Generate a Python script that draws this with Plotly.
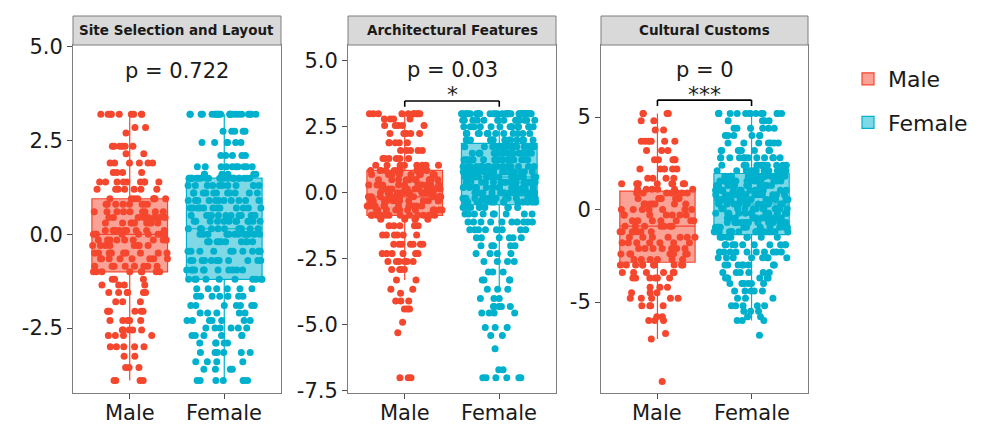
import numpy as np
import plotly.graph_objects as go

# ---------------- data: score levels and how many respondents sit at each ----------------
groups = ["Male", "Female"]
panel_titles = ["Site Selection and Layout", "Architectural Features", "Cultural Customs"]
p_labels = ["p = 0.722", "p = 0.03", "p = 0"]
sig_labels = ["", "*", "***"]

site_male_levels = [3.2, 2.85, 2.7, 2.35, 2.15, 1.9, 1.65, 1.4, 1.2,
                    0.95, 0.8, 0.6, 0.45, 0.3, 0.1, 0.0, -0.15, -0.3, -0.5, -0.65, -0.85, -1.0,
                    -1.2, -1.35, -1.55, -1.8, -2.05, -2.3, -2.55, -2.7, -3.0, -3.25, -3.55, -3.9]
site_male_counts = [9, 2, 1, 6, 2, 6, 4, 9, 7,
                    8, 8, 9, 8, 9, 10, 9, 9, 8, 9, 8, 8, 8,
                    3, 4, 6, 3, 6, 5, 5, 4, 5, 2, 3, 4]

site_female_levels = [3.2, 2.75, 2.45, 2.1, 1.8, 1.6, 1.5,
                      1.3, 1.1, 0.9, 0.7, 0.5, 0.35, 0.15, 0.0, -0.2, -0.45, -0.7, -0.95, -1.2,
                      -1.45, -1.65, -1.9, -2.1, -2.3, -2.5, -2.7, -2.9, -3.15, -3.4, -3.6, -3.9]
site_female_counts = [22, 5, 6, 5, 10, 6, 21,
                      10, 11, 11, 12, 12, 12, 11, 12, 11, 11, 11, 11, 10,
                      6, 7, 7, 5, 7, 6, 6, 5, 6, 4, 4, 7]

arch_male_levels = [3.0, 2.8, 2.55, 2.25, 1.9, 1.6, 1.3, 1.05, 0.85,
                    0.7, 0.5, 0.3, 0.15, 0.0, -0.15, -0.3, -0.5, -0.65, -0.85,
                    -1.0, -1.25, -1.6, -1.95, -2.3, -2.6, -2.9, -3.3, -3.65, -3.8,
                    -4.1, -4.4, -4.9, -5.3, -7.0]
arch_male_counts = [10, 4, 5, 5, 5, 5, 6, 8, 10,
                    10, 11, 11, 12, 12, 12, 12, 12, 11, 13,
                    5, 5, 6, 7, 6, 6, 4, 2, 2, 1,
                    3, 3, 1, 1, 3]

arch_female_levels = [3.0, 2.75, 2.5, 2.25, 2.0,
                      1.75, 1.5, 1.25, 1.0, 0.8, 0.6, 0.4, 0.2, 0.0, -0.2, -0.35,
                      -0.55, -0.8, -1.1, -1.4, -1.7, -2.0, -2.3, -2.6, -3.0, -3.3, -3.65,
                      -4.0, -4.3, -4.55, -5.1, -5.4, -5.9, -6.7, -7.0]
arch_female_counts = [34, 14, 14, 14, 14,
                      16, 17, 17, 17, 17, 17, 17, 16, 16, 16, 14,
                      8, 9, 10, 8, 6, 5, 4, 4, 3, 4, 3,
                      3, 5, 4, 3, 2, 1, 2, 6]

cult_male_levels = [5.2, 4.8, 4.3, 3.7, 3.2, 2.7, 2.2, 1.7, 1.4, 1.1,
                    0.9, 0.6, 0.3, 0.0, -0.3, -0.6, -0.9, -1.2, -1.5, -1.8, -2.1, -2.4, -2.7,
                    -3.0, -3.4, -3.7, -4.2, -4.5, -4.8, -5.2, -5.8, -6.0, -6.7, -7.0, -9.3]
cult_male_counts = [4, 2, 2, 6, 3, 5, 5, 4, 8, 6,
                    7, 7, 7, 7, 7, 7, 7, 7, 7, 7, 7, 7, 6,
                    10, 6, 6, 3, 3, 5, 4, 2, 3, 1, 1, 1]

cult_female_levels = [5.2, 4.8, 4.4, 4.0, 3.6, 3.2, 2.8, 2.4, 2.1,
                      1.8, 1.55, 1.3, 1.05, 0.8, 0.55, 0.3, 0.05, -0.2, -0.45, -0.7, -0.95, -1.2,
                      -1.5, -1.9, -2.3, -2.6, -3.0, -3.4, -3.7, -4.0, -4.4, -4.8, -5.2, -5.5,
                      -5.8, -6.0, -6.8]
cult_female_counts = [14, 4, 6, 6, 7, 8, 12, 13, 14,
                      13, 13, 13, 13, 13, 13, 13, 13, 13, 13, 13, 12, 13,
                      8, 10, 10, 8, 8, 6, 6, 6, 5, 3, 5, 3,
                      2, 3, 1]

panel_data = [
    (site_male_levels, site_male_counts, site_female_levels, site_female_counts),
    (arch_male_levels, arch_male_counts, arch_female_levels, arch_female_counts),
    (cult_male_levels, cult_male_counts, cult_female_levels, cult_female_counts),
]

# axis ticks per panel
y_ranges = [[-4.23, 5.05], [-7.58, 5.6], [-9.92, 8.9]]
y_tickvals = [[-2.5, 0.0, 2.5, 5.0], [-7.5, -5.0, -2.5, 0.0, 2.5, 5.0], [-5, 0, 5]]
y_ticktext = [["-2.5", "0.0", "2.5", "5.0"],
              ["-7.5", "-5.0", "-2.5", "0.0", "2.5", "5.0"],
              ["-5", "0", "5"]]
# annotation heights (data units) per panel
p_label_y = [4.36, 4.66, 7.54]
sig_label_y = [None, 3.18, 5.43]      # bottom edge of the star text
bracket_y = [None, 3.48, 5.92]
bracket_tick_y = [None, 3.26, 5.6]

# ---------------- styling ----------------
W, H = 986, 426
colors = {"Male": "#F5462E", "Female": "#00B1CD"}
fills = {"Male": "rgba(245,70,46,0.5)", "Female": "rgba(0,177,205,0.5)"}
x_domains = [(73, 281), (348, 556), (601, 808)]   # pixel spans of the panels
plot_top, plot_bottom = 45, 393
strip_top = 16
FONT = "DejaVu Sans"
TXT = "#1A1A1A"

fig = go.Figure()
layout_axes = {}
shapes = []
annotations = []

for i in range(3):
    xa = "x" if i == 0 else f"x{i + 1}"
    ya = "y" if i == 0 else f"y{i + 1}"
    ml, mc, fl, fc = panel_data[i]
    for g, lv, ct in (("Male", ml, mc), ("Female", fl, fc)):
        vals = np.repeat(np.array(lv, dtype=float), np.array(ct, dtype=int))
        fig.add_trace(go.Box(
            x=[g] * len(vals), y=vals, name=g, legendgroup=g, showlegend=(i == 0),
            xaxis=xa, yaxis=ya, width=0.8,
            boxpoints="all", jitter=1.0, pointpos=0, whiskerwidth=0,
            marker=dict(color=colors[g], size=7, opacity=1),
            line=dict(color=colors[g], width=1.2),
            fillcolor=fills[g],
            hoverinfo="y",
        ))

    d0 = x_domains[i][0] / W
    d1 = x_domains[i][1] / W
    ydom = [1 - plot_bottom / H, 1 - plot_top / H]
    key_x = "xaxis" if i == 0 else f"xaxis{i + 1}"
    key_y = "yaxis" if i == 0 else f"yaxis{i + 1}"
    layout_axes[key_x] = dict(
        domain=[d0, d1], anchor=ya, type="category", categoryorder="array",
        categoryarray=groups, range=[-0.6, 1.6], automargin=False,
        showline=True, mirror=True, linecolor="#7F7F7F", linewidth=1,
        ticks="outside", ticklen=5, tickcolor="#4D4D4D", showgrid=False, zeroline=False,
        showticklabels=False,
    )
    layout_axes[key_y] = dict(
        domain=ydom, anchor=xa, range=y_ranges[i], automargin=False,
        tickvals=y_tickvals[i], ticktext=y_ticktext[i],
        showline=True, mirror=True, linecolor="#7F7F7F", linewidth=1,
        ticks="outside", ticklen=5, tickcolor="#4D4D4D", showgrid=False, zeroline=False,
        tickfont=dict(family=FONT, size=21, color=TXT),
    )

    # category labels under each panel, sitting on the bottom edge of the figure
    for g in groups:
        annotations.append(dict(xref=xa, yref="paper", x=g, y=0, text=g, showarrow=False,
                                font=dict(family=FONT, size=21, color=TXT),
                                xanchor="center", yanchor="bottom", borderpad=0))

    # facet strip
    shapes.append(dict(type="rect", xref="paper", yref="paper",
                       x0=d0, x1=d1, y0=1 - plot_top / H, y1=1 - strip_top / H,
                       fillcolor="#D9D9D9", line=dict(color="#7F7F7F", width=1), layer="above"))
    annotations.append(dict(xref="paper", yref="paper", x=(d0 + d1) / 2,
                            y=1 - (strip_top + plot_top) / 2 / H,
                            text=f"<b>{panel_titles[i]}</b>", showarrow=False,
                            font=dict(family=FONT, size=13.5, color=TXT),
                            xanchor="center", yanchor="middle"))
    # p-value label
    annotations.append(dict(xref=xa, yref=ya, x=0.5, y=p_label_y[i], text=p_labels[i],
                            showarrow=False, font=dict(family=FONT, size=21, color=TXT),
                            xanchor="center", yanchor="middle"))
    # significance bracket
    if sig_labels[i]:
        by, bt = bracket_y[i], bracket_tick_y[i]
        for (x0, y0, x1, y1) in ((0, by, 1, by), (0, bt, 0, by), (1, bt, 1, by)):
            shapes.append(dict(type="line", xref=xa, yref=ya, x0=x0, y0=y0, x1=x1, y1=y1,
                               line=dict(color="#000000", width=1.6), layer="above"))
        annotations.append(dict(xref=xa, yref=ya, x=0.5, y=sig_label_y[i], text=sig_labels[i],
                                showarrow=False, font=dict(family=FONT, size=22, color=TXT),
                                xanchor="center", yanchor="bottom"))

fig.update_layout(
    width=W, height=H, margin=dict(l=0, r=0, t=0, b=0, autoexpand=False),
    paper_bgcolor="white", plot_bgcolor="white",
    boxmode="overlay", boxgap=0.2, boxgroupgap=0,
    showlegend=True,
    legend=dict(x=848 / W, y=1 - 58 / H, xanchor="left", yanchor="top",
                font=dict(family=FONT, size=22, color=TXT),
                tracegroupgap=12, bgcolor="rgba(0,0,0,0)"),
    shapes=shapes, annotations=annotations,
    **layout_axes,
)

fig.write_html("out.html")
